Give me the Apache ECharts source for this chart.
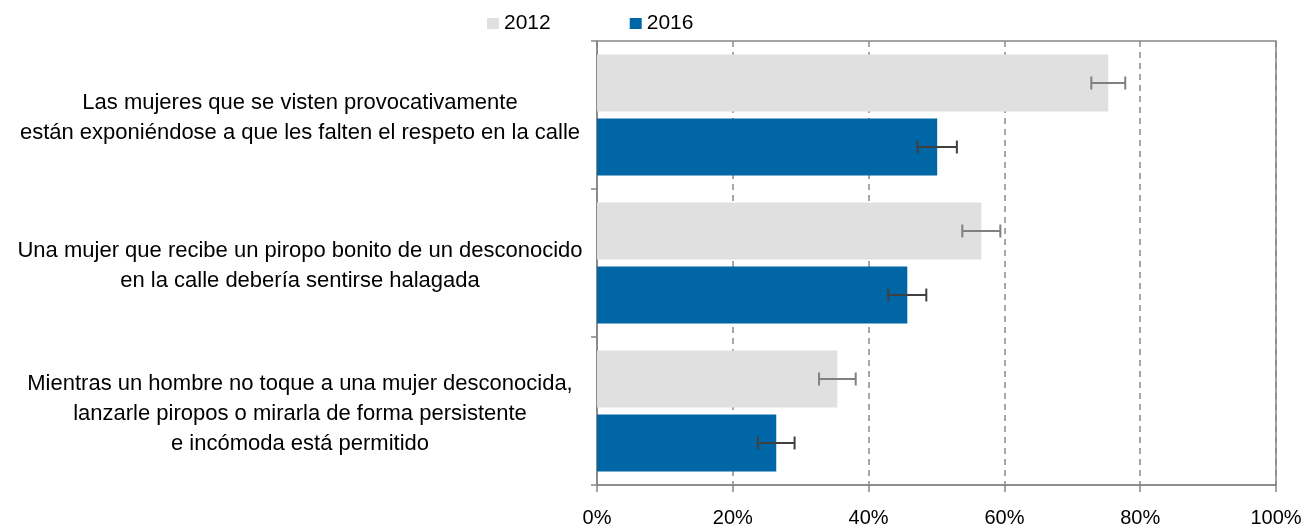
<!DOCTYPE html>
<html>
<head>
<meta charset="utf-8">
<script src="https://cdn.jsdelivr.net/npm/echarts@6/dist/echarts.min.js"></script>
<style>
  html, body { margin: 0; padding: 0; background: #fff; }
  #chart { width: 1310px; height: 527px; }
</style>
</head>
<body>
<div id="chart"></div>
<script>
// datos
var categories = [
  ["Las mujeres que se visten provocativamente", "están exponiéndose a que les falten el respeto en la calle"],
  ["Una mujer que recibe un piropo bonito de un desconocido", "en la calle debería sentirse halagada"],
  ["Mientras un hombre no toque a una mujer desconocida,", "lanzarle piropos o mirarla de forma persistente", "e incómoda está permitido"]
];
var years = ["2012", "2016"];
var values2012 = [75.3, 56.6, 35.4];
var values2016 = [50.1, 45.7, 26.4];
var err2012 = [2.5, 2.8, 2.7];
var err2016 = [2.9, 2.8, 2.7];
var xTicks = [0, 20, 40, 60, 80, 100];

var BAR_W = 57;
var GAP = 7;
var FONT = "Liberation Sans";

// barras de error, una serie custom por año
function errorSeries(vals, errs, dir, color) {
  return {
    type: "custom",
    silent: true,
    z: 5,
    data: vals.map(function (v, i) { return [v, i, errs[i]]; }),
    renderItem: function (params, api) {
      var v = api.value(0), cat = api.value(1), e = api.value(2);
      var lo = api.coord([v - e, cat]);
      var hi = api.coord([v + e, cat]);
      var y = lo[1] + dir * (BAR_W + GAP) / 2;
      var cap = 6.5;
      var st = { stroke: color, lineWidth: 2 };
      return {
        type: "group",
        children: [
          { type: "line", shape: { x1: lo[0], y1: y, x2: hi[0], y2: y }, style: st },
          { type: "line", shape: { x1: lo[0], y1: y - cap, x2: lo[0], y2: y + cap }, style: st },
          { type: "line", shape: { x1: hi[0], y1: y - cap, x2: hi[0], y2: y + cap }, style: st }
        ]
      };
    }
  };
}

var chart = echarts.init(document.getElementById("chart"));
chart.setOption({
  animation: false,
  textStyle: { fontFamily: FONT },
  legend: {
    data: years,
    left: 482,
    top: 8,
    icon: "rect",
    itemWidth: 12,
    itemHeight: 11,
    itemGap: 79,
    textStyle: { fontSize: 21, color: "#000", fontFamily: FONT }
  },
  grid: {
    left: 597, right: 34, top: 41, bottom: 42,
    outerBoundsMode: "none",
    containLabel: false,
    show: true, borderColor: "#868686", borderWidth: 1.5
  },
  xAxis: {
    type: "value",
    min: xTicks[0],
    max: xTicks[xTicks.length - 1],
    interval: 20,
    axisLine: { show: true, lineStyle: { color: "#868686", width: 1.5 } },
    axisTick: { show: true, length: 7, lineStyle: { color: "#868686", width: 1.5 } },
    axisLabel: { formatter: "{value}%", fontSize: 20, color: "#000", margin: 23, fontFamily: FONT },
    splitLine: { show: true, lineStyle: { color: "#8a8a8a", width: 1.5, type: [6, 5] } }
  },
  yAxis: {
    type: "category",
    inverse: true,
    data: categories.map(function (c) { return c.join("\n"); }),
    axisLine: { show: true, lineStyle: { color: "#868686", width: 1.5 } },
    axisTick: { show: true, length: 6, lineStyle: { color: "#868686", width: 1.5 } },
    axisLabel: {
      margin: 8,
      align: "right",
      color: "#000",
      fontSize: 22,
      fontFamily: FONT,
      padding: [6, 0, 0, 0],
      formatter: function (val) {
        return val.split("\n").map(function (l) { return "{c|" + l + "}"; }).join("\n");
      },
      rich: {
        c: { width: 578, align: "center", fontSize: 22, lineHeight: 30, color: "#000", fontFamily: FONT }
      }
    }
  },
  series: [
    {
      name: years[0], type: "bar", data: values2012,
      barWidth: BAR_W, barGap: (GAP / BAR_W * 100) + "%",
      itemStyle: { color: "#e0e0e0" }
    },
    {
      name: years[1], type: "bar", data: values2016,
      barWidth: BAR_W,
      itemStyle: { color: "#0066a6" }
    },
    errorSeries(values2012, err2012, -1, "#808080"),
    errorSeries(values2016, err2016, 1, "#404040")
  ]
});
</script>
</body>
</html>
